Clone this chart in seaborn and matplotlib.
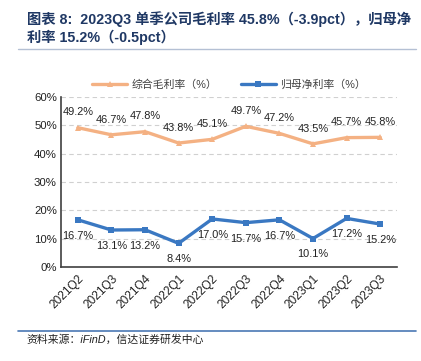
#!/usr/bin/env python3
"""
Quarterly gross margin and net margin attributable to parent.
"""
import matplotlib
matplotlib.use("Agg")
import matplotlib.pyplot as plt
import seaborn as sns
import pandas as pd
from matplotlib.ticker import FixedLocator, PercentFormatter

quarters = ["2021Q2", "2021Q3", "2021Q4", "2022Q1", "2022Q2",
            "2022Q3", "2022Q4", "2023Q1", "2023Q2", "2023Q3"]
gross_margin = [49.2, 46.7, 47.8, 43.8, 45.1, 49.7, 47.2, 43.5, 45.7, 45.8]
net_margin = [16.7, 13.1, 13.2, 8.4, 17.0, 15.7, 16.7, 10.1, 17.2, 15.2]
series_names = ["综合毛利率（%）", "归母净利率（%）"]

title_text = "图表 8:  2023Q3 单季公司毛利率 45.8%（-3.9pct），归母净\n利率 15.2%（-0.5pct）"
source_text = "资料来源：iFinD，信达证券研发中心"

sns.set_theme(style="white")
plt.rcParams["font.family"] = ["Liberation Sans", "Noto Sans CJK SC", "DejaVu Sans"]

df = pd.DataFrame({"quarter": quarters * 2,
                   "value": gross_margin + net_margin,
                   "series": [series_names[0]] * 10 + [series_names[1]] * 10})

fig = plt.figure(figsize=(4.21, 3.61), dpi=100)
ax = fig.add_axes([0.145, 0.26, 0.798, 0.471])

palette = {series_names[0]: "#F4B183", series_names[1]: "#3A78C2"}
sns.lineplot(data=df, x="quarter", y="value", hue="series", style="series",
             markers={series_names[0]: "^", series_names[1]: "s"},
             dashes=False, palette=palette, linewidth=2.4, markersize=5,
             markeredgewidth=0, ax=ax)

for i, v in enumerate(gross_margin):
    ax.annotate(f"{v:.1f}%", (i, v), xytext=(0, 11), textcoords="offset points",
                ha="center", va="center", fontsize=7.9, color="#222222")
for i, v in enumerate(net_margin):
    ax.annotate(f"{v:.1f}%", (i, v), xytext=(0, -11.5), textcoords="offset points",
                ha="center", va="center", fontsize=7.9, color="#222222")

ax.set_ylim(0, 60)
ax.set_xlim(-0.5, 9.5)
ax.set_yticks(range(0, 61, 10))
ax.yaxis.set_major_formatter(PercentFormatter(decimals=0))
ax.grid(axis="y", linestyle=(0, (4, 3)), color="#D0D0D0", linewidth=0.8)
ax.set_axisbelow(True)
ax.set_xlabel("")
ax.set_ylabel("")
for s in ["top", "right"]:
    ax.spines[s].set_visible(False)
for s in ["left", "bottom"]:
    ax.spines[s].set_color("#404040")
    ax.spines[s].set_linewidth(1.2)

ax.set_xticks(range(len(quarters)))
ax.set_xticklabels(quarters, rotation=45, ha="right", rotation_mode="anchor",
                   fontsize=8.6, color="#222222")
ax.tick_params(axis="x", which="major", length=0, pad=4)
ax.xaxis.set_minor_locator(FixedLocator([i + 0.5 for i in range(10)]))
ax.tick_params(axis="x", which="minor", direction="in", length=3,
               width=1, color="#404040")
ax.tick_params(axis="y", labelsize=8.2, labelcolor="#222222", length=0, pad=3)

leg = ax.legend(loc="lower center", bbox_to_anchor=(0.5, 0.985), ncol=2,
                frameon=False, fontsize=7.8, handlelength=3.2,
                columnspacing=2.2, handletextpad=0.4, markerscale=0.8)
for t in leg.get_texts():
    t.set_color("#404040")

fig.text(0.064, 0.968, title_text, fontsize=10.3, fontweight="bold",
         color="#1F3864", va="top", ha="left", linespacing=1.2,
         family=["Liberation Sans", "Noto Sans CJK SC"])
fig.add_artist(plt.Line2D([0.043, 0.988], [0.864, 0.864], color="#B4C0D4",
                          linewidth=1.0))
fig.add_artist(plt.Line2D([0.043, 0.988], [0.084, 0.084], color="#4A78B4",
                          linewidth=1.2))
fig.text(0.064, 0.058, source_text, fontsize=7.8, style="italic",
         color="#222222", va="center", ha="left",
         family=["Liberation Sans", "Noto Sans CJK SC"])

fig.savefig("out.png", dpi=100)
